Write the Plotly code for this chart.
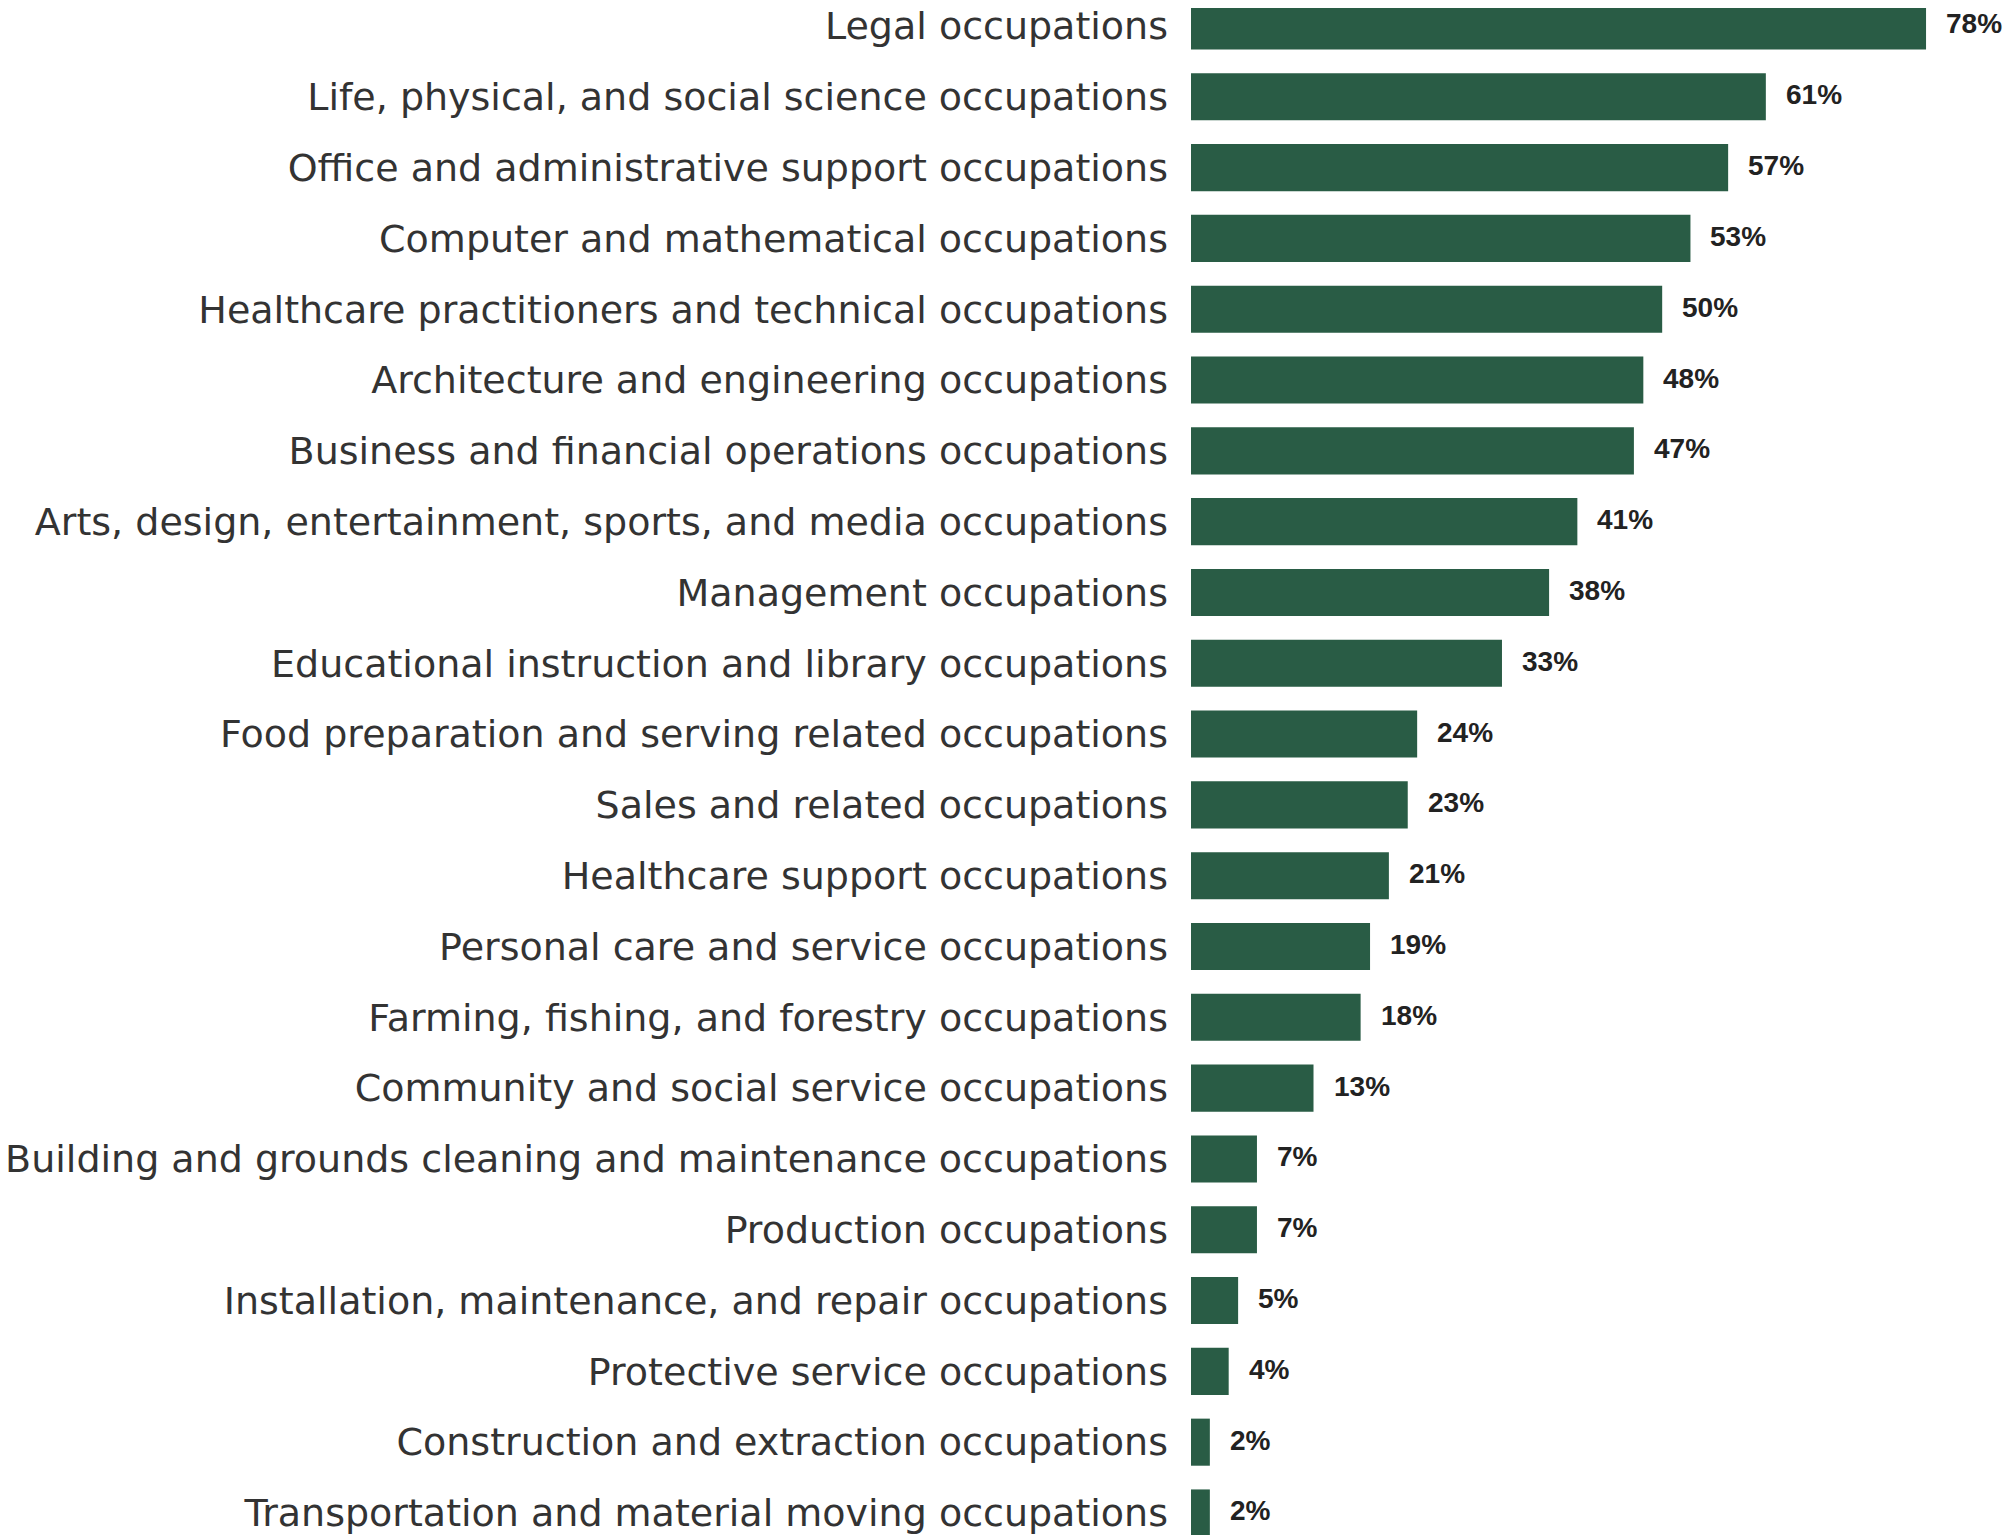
import plotly.graph_objects as go

categories = [
    "Legal occupations",
    "Life, physical, and social science occupations",
    "Office and administrative support occupations",
    "Computer and mathematical occupations",
    "Healthcare practitioners and technical occupations",
    "Architecture and engineering occupations",
    "Business and financial operations occupations",
    "Arts, design, entertainment, sports, and media occupations",
    "Management occupations",
    "Educational instruction and library occupations",
    "Food preparation and serving related occupations",
    "Sales and related occupations",
    "Healthcare support occupations",
    "Personal care and service occupations",
    "Farming, fishing, and forestry occupations",
    "Community and social service occupations",
    "Building and grounds cleaning and maintenance occupations",
    "Production occupations",
    "Installation, maintenance, and repair occupations",
    "Protective service occupations",
    "Construction and extraction occupations",
    "Transportation and material moving occupations",
]
values = [78, 61, 57, 53, 50, 48, 47, 41, 38, 33, 24, 23, 21, 19, 18, 13, 7, 7, 5, 4, 2, 2]
value_labels = [f"{v}%" for v in values]

BAR_COLOR = "#295c45"
TEXT_COLOR = "#333333"

fig = go.Figure()
fig.add_trace(go.Bar(
    x=values,
    y=categories,
    orientation="h",
    marker=dict(color=BAR_COLOR, line=dict(width=0)),
    hoverinfo="skip",
))

for cat, v, lab in zip(categories, values, value_labels):
    fig.add_annotation(
        x=v, y=cat, text=f"<b>{lab}</b>",
        xref="x", yref="y",
        xanchor="left", yanchor="middle",
        xshift=18, yshift=2, showarrow=False,
        font=dict(family="Liberation Sans, Arial, sans-serif", size=28, color="#222222"),
    )

fig.update_layout(
    width=2005, height=1527,
    margin=dict(l=1183, r=21, t=0, b=0, pad=0),
    paper_bgcolor="white", plot_bgcolor="white",
    bargap=0.335,
    showlegend=False,
    xaxis=dict(range=[0, 85], visible=False, showgrid=False, zeroline=False),
    yaxis=dict(
        type="category",
        range=[21.311, -0.254],
        showgrid=False, zeroline=False, showline=False,
        ticks="", ticklabelstandoff=22,
        automargin=False,
        tickfont=dict(family="DejaVu Sans", size=38, color=TEXT_COLOR),
    ),
)

fig.write_html("out.html")
